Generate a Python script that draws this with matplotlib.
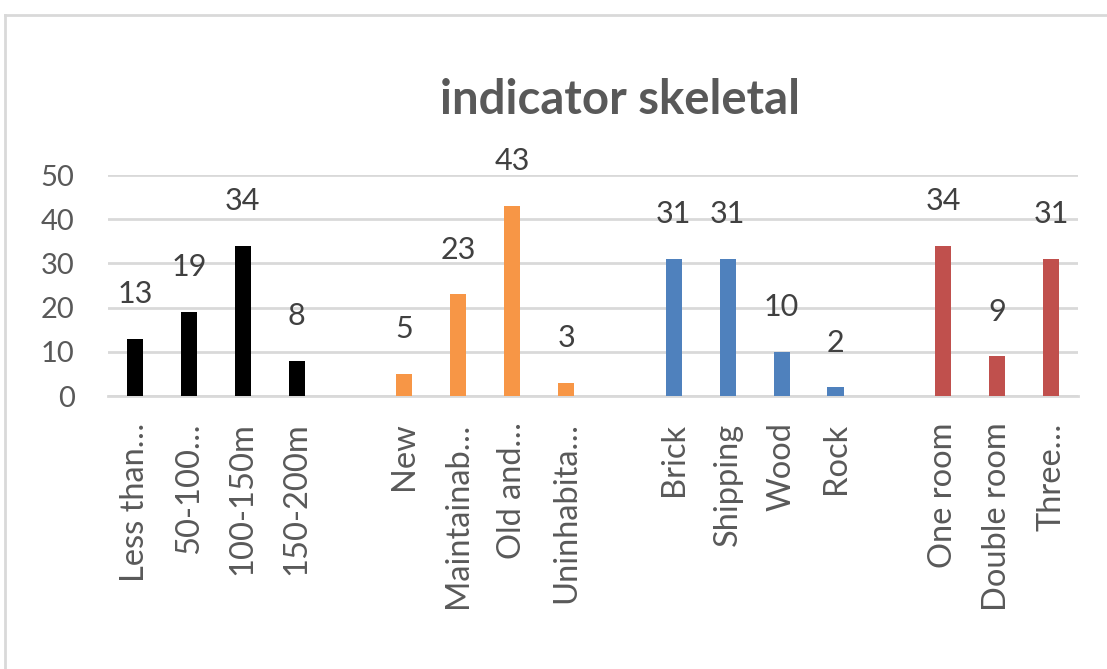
import matplotlib

matplotlib.use("Agg")
import matplotlib.pyplot as plt
from matplotlib.lines import Line2D

plt.rcParams["font.family"] = ["Lato", "DejaVu Sans"]

# ---- data ----
size_labels = ["Less than\u2026", "50-100\u2026", "100-150m", "150-200m"]
size_values = [13, 19, 34, 8]
state_labels = ["New", "Maintainab\u2026", "Old and\u2026", "Uninhabita\u2026"]
state_values = [5, 23, 43, 3]
material_labels = ["Brick", "Shipping", "Wood", "Rock"]
material_values = [31, 31, 10, 2]
room_labels = ["One room", "Double room", "Three\u2026"]
room_values = [34, 9, 31]

groups = [
    (size_labels, size_values, "#000000"),
    (state_labels, state_values, "#F79646"),
    (material_labels, material_values, "#4F81BD"),
    (room_labels, room_values, "#C0504D"),
]

GRAY = "#595959"
GRID = "#D9D9D9"

fig = plt.figure(figsize=(11.07, 6.69), dpi=100)
ax = fig.add_axes([108 / 1107, 1 - 396 / 669, 970 / 1107, 221 / 669])

# chart-area border (top and left edge, like the Excel frame)
fig.add_artist(Line2D([5 / 1107, 1.0], [1 - 15 / 669] * 2, color=GRID, lw=2, transform=fig.transFigure))
fig.add_artist(Line2D([5 / 1107] * 2, [0, 1 - 15 / 669], color=GRID, lw=2, transform=fig.transFigure))

ticks, ticklabels = [], []
pos = 0
for labels, values, color in groups:
    xs = list(range(pos, pos + len(values)))
    ax.bar(xs, values, width=0.3, color=color, zorder=3)
    for x, v in zip(xs, values):
        ax.annotate(str(v), (x, v), xytext=(0, 22), textcoords="offset points",
                    ha="center", va="bottom", fontsize=22, color="#404040",
                    annotation_clip=False)
    ticks += xs
    ticklabels += labels
    pos += len(values) + 1

ax.set_xlim(-0.5, pos - 1.5)
ax.set_ylim(0, 50)
ax.set_yticks(range(0, 51, 10))
ax.set_xticks(ticks)
ax.set_xticklabels(ticklabels, rotation=90, ha="center", va="top", fontsize=23.5)
ax.tick_params(axis="y", length=0, labelsize=21, labelcolor=GRAY, pad=24)
ax.tick_params(axis="x", length=0, labelcolor=GRAY, pad=19)
ax.grid(axis="y", color=GRID, lw=2, zorder=0)
for side in ["top", "right", "left"]:
    ax.spines[side].set_visible(False)
ax.spines["bottom"].set_color(GRID)
ax.spines["bottom"].set_linewidth(2)

fig.text(620 / 1107, 1 - 100 / 669, "indicator skeletal", ha="center", va="center",
         fontsize=34, fontweight="bold", color=GRAY)

fig.savefig("out.png", dpi=100)
